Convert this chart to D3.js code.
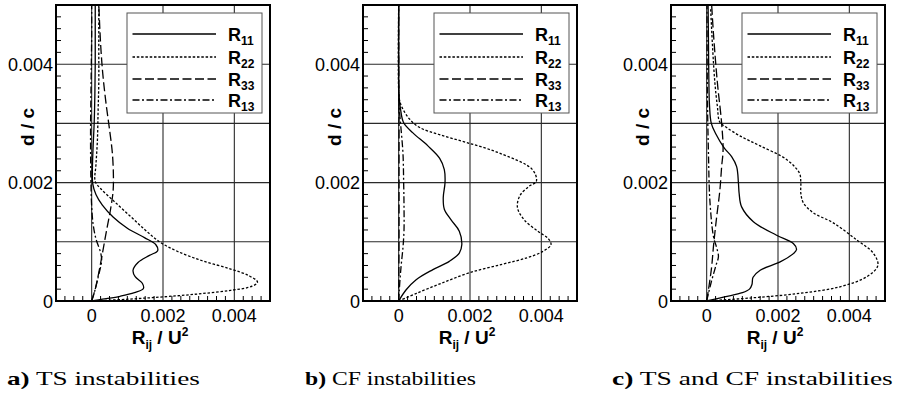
<!DOCTYPE html>
<html><head><meta charset="utf-8">
<script src="https://cdn.jsdelivr.net/npm/d3@7"></script>
<style>body{margin:0;background:#fff}svg{display:block}</style></head>
<body><svg id="chart" width="902" height="394"></svg>
<script>
// values in units of 1e-3 : [R_ij/U^2, d/c]
const captionBold = ["a)", "b)", "c)"];
const captionText = ["TS instabilities", "CF instabilities", "TS and CF instabilities"];
const seriesNames = ["11", "22", "33", "13"];
const xTickValues = [0, 2, 4];
const xTickLabels = ["0", "0.002", "0.004"];
const yTickValues = [0, 2, 4];
const yTickLabels = ["0", "0.002", "0.004"];

const R11a = [[0,0],[0.3,0.03],[0.8,0.08],[1.2,0.14],[1.45,0.21],[1.42,0.3],[1.22,0.41],[1.16,0.52],[1.3,0.65],[1.62,0.77],[1.85,0.85],[1.8,0.95],[1.48,1.07],[1.0,1.23],[0.6,1.42],[0.3,1.62],[0.12,1.8],[0.03,1.98],[0.02,2.2],[0.04,2.6],[0.07,3.0],[0.09,3.5],[0.1,4.0],[0.1,4.5],[0.1,5.0]];
const R22a = [[0,0],[1.0,0.03],[2.0,0.07],[3.0,0.12],[3.9,0.18],[4.5,0.25],[4.65,0.32],[4.4,0.43],[3.9,0.54],[3.1,0.68],[2.4,0.84],[1.9,1.0],[1.5,1.2],[1.05,1.45],[0.6,1.7],[0.25,1.9],[0.1,2.02],[0.12,2.3],[0.16,2.7],[0.18,3.2],[0.2,3.7],[0.2,4.2],[0.2,4.6],[0.2,5.0]];
const R33a = [[0,0],[0.1,0.2],[0.2,0.48],[0.3,0.8],[0.42,1.2],[0.53,1.55],[0.6,1.85],[0.61,2.1],[0.58,2.5],[0.5,2.9],[0.4,3.35],[0.31,3.85],[0.25,4.35],[0.2,5.0]];
const R13a = [[0,0],[0.1,0.2],[0.2,0.45],[0.28,0.68],[0.25,0.82],[0.12,1.05],[0.04,1.3],[0.0,1.6],[-0.02,2.0],[-0.03,2.5],[-0.03,3.0],[-0.02,3.5],[-0.01,4.0],[0,4.5],[0,5.0]];

const R11b = [[0,0],[0.21,0.19],[0.49,0.36],[0.96,0.53],[1.42,0.67],[1.7,0.81],[1.77,0.95],[1.7,1.18],[1.47,1.37],[1.28,1.55],[1.25,1.75],[1.3,2.0],[1.28,2.22],[1.15,2.41],[0.82,2.62],[0.4,2.84],[0.14,3.01],[0.05,3.25],[0.01,3.46],[0,3.7],[0,5.0]];
const R22b = [[0,0],[0.5,0.13],[1.2,0.3],[2.0,0.48],[2.9,0.62],[3.6,0.73],[4.05,0.84],[4.27,0.95],[4.2,1.05],[3.9,1.18],[3.52,1.37],[3.33,1.58],[3.4,1.78],[3.66,1.94],[3.86,2.02],[3.75,2.22],[2.82,2.5],[1.89,2.68],[1.14,2.81],[0.59,2.93],[0.31,3.07],[0.12,3.24],[0.03,3.38],[0,3.55],[0,5.0]];
const R33b = [[0,0],[0.01,1.0],[0.01,2.0],[0.01,3.0],[0,4.0],[0,5.0]];
const R13b = [[0,0],[0.03,0.3],[0.07,0.6],[0.12,0.9],[0.15,1.2],[0.15,1.6],[0.14,2.0],[0.12,2.5],[0.06,2.95],[0.01,3.3],[0,3.6],[0,5.0]];

const R11c = [[0,0],[0.5,0.07],[1.0,0.14],[1.2,0.2],[1.27,0.28],[1.3,0.4],[1.5,0.52],[2.06,0.66],[2.43,0.8],[2.52,0.87],[2.43,0.97],[1.96,1.11],[1.31,1.34],[0.98,1.59],[0.91,1.82],[0.89,2.0],[0.84,2.27],[0.7,2.44],[0.5,2.58],[0.25,2.83],[0.13,3.0],[0.08,3.3],[0.06,3.8],[0.05,4.4],[0.04,5.0]];
const R22c = [[0,0],[1.21,0.05],[2.62,0.13],[3.74,0.24],[4.49,0.41],[4.8,0.6],[4.67,0.81],[4.21,1.03],[3.55,1.32],[2.99,1.49],[2.71,1.66],[2.64,1.82],[2.64,2.0],[2.6,2.16],[2.24,2.39],[1.5,2.62],[0.93,2.79],[0.56,2.93],[0.37,3.02],[0.3,3.29],[0.23,3.69],[0.17,4.24],[0.11,4.95]];
const R33c = [[0,0],[0.05,0.19],[0.14,0.58],[0.19,0.92],[0.28,1.42],[0.37,1.87],[0.42,2.27],[0.46,2.55],[0.42,3.0],[0.3,3.69],[0.19,4.52],[0.14,5.0]];
const R13c = [[0,0],[0.12,0.3],[0.26,0.6],[0.33,0.75],[0.28,0.9],[0.19,1.09],[0.09,1.7],[0.05,2.5],[0.02,3.5],[0.01,5.0]];

const panelSeries = [[R11a, R22a, R33a, R13a], [R11b, R22b, R33b, R13b], [R11c, R22c, R33c, R13c]];
const dashes = [null, "2.5,1.8", "9,3.5", "7,2.5,2,2.5"];

const svg = d3.select("#chart");
svg.append("rect").attr("width", 902).attr("height", 394).attr("fill", "#fff");

const frameLeft = [56, 363, 671];
const W = 214, plotTop = 5, H = 296;
const captionX = [7, 305, 612];
const captionW = [193, 171, 281];
const sans = "Liberation Sans, Arial, Helvetica, sans-serif";

frameLeft.forEach((fx, p) => {
  const g = svg.append("g");
  const x = d3.scaleLinear().domain([-1, 5]).range([fx, fx + W]);
  const y = d3.scaleLinear().domain([0, 5]).range([plotTop + H, plotTop]);
  const clipId = "clip" + p;
  svg.append("clipPath").attr("id", clipId).append("rect")
    .attr("x", fx).attr("y", plotTop).attr("width", W).attr("height", H);

  // grid
  [1, 2, 3, 4].forEach(v => g.append("line").attr("x1", fx).attr("x2", fx + W)
    .attr("y1", y(v)).attr("y2", y(v)).attr("stroke", "#2a2a2a").attr("stroke-width", 1.1));
  [0, 2, 4].forEach(v => g.append("line").attr("y1", plotTop).attr("y2", plotTop + H)
    .attr("x1", x(v)).attr("x2", x(v)).attr("stroke", "#2a2a2a").attr("stroke-width", 1.1));

  // curves
  const line = d3.line().x(d => x(d[0])).y(d => y(d[1])).curve(d3.curveCatmullRom.alpha(0.5));
  const cg = g.append("g").attr("clip-path", `url(#${clipId})`);
  panelSeries[p].forEach((s, i) => {
    cg.append("path").datum(s).attr("d", line).attr("fill", "none")
      .attr("stroke", "#000").attr("stroke-width", 1.3)
      .attr("stroke-dasharray", dashes[i]);
  });

  // legend
  const bx = fx + W - 8 - 135, by = 13;
  g.append("rect").attr("x", bx).attr("y", by).attr("width", 135).attr("height", 100)
    .attr("fill", "#fff").attr("stroke", "#555").attr("stroke-width", 1);
  const rows = [21, 44, 66, 87];
  seriesNames.forEach((n, i) => {
    g.append("line").attr("x1", bx + 5.5).attr("x2", bx + 89)
      .attr("y1", by + rows[i]).attr("y2", by + rows[i])
      .attr("stroke", "#000").attr("stroke-width", 1.3).attr("stroke-dasharray", dashes[i]);
    const t = g.append("text").attr("x", bx + 101).attr("y", by + rows[i] + 6.5)
      .attr("font-family", sans).attr("font-weight", "bold")
      .attr("font-size", 18).attr("fill", "#000");
    t.append("tspan").text("R");
    t.append("tspan").attr("font-size", 12).attr("dy", 4).text(n);
  });

  // frame
  g.append("rect").attr("x", fx).attr("y", plotTop).attr("width", W).attr("height", H)
    .attr("fill", "none").attr("stroke", "#000").attr("stroke-width", 2);

  // minor ticks
  d3.range(0, 5.001, 0.2).forEach(v => {
    if (Math.abs(v - Math.round(v)) < 1e-6) return;
    g.append("line").attr("x1", fx).attr("x2", fx + 5).attr("y1", y(v)).attr("y2", y(v))
      .attr("stroke", "#000").attr("stroke-width", 1);
  });
  d3.range(-1, 5.001, 0.25).forEach(v => {
    if ([0, 2, 4, -1, 5].some(k => Math.abs(v - k) < 1e-6)) return;
    g.append("line").attr("x1", x(v)).attr("x2", x(v)).attr("y1", plotTop + H).attr("y2", plotTop + H - 5)
      .attr("stroke", "#000").attr("stroke-width", 1);
  });

  // tick labels
  yTickValues.forEach((v, i) => g.append("text").attr("x", fx - 3).attr("y", y(v) + 6.5)
    .attr("text-anchor", "end").attr("font-family", sans)
    .attr("font-size", 18).text(yTickLabels[i]));
  xTickValues.forEach((v, i) => g.append("text").attr("x", x(v)).attr("y", 322)
    .attr("text-anchor", "middle").attr("font-family", sans)
    .attr("font-size", 18).text(xTickLabels[i]));

  // axis titles
  const xt = g.append("text").attr("x", fx + W / 2 - 3).attr("y", 344).attr("text-anchor", "middle")
    .attr("font-family", sans).attr("font-weight", "bold").attr("font-size", 19);
  xt.append("tspan").text("R");
  xt.append("tspan").attr("font-size", 12).attr("dy", 5).text("ij");
  xt.append("tspan").attr("dy", -5).text(" / U");
  xt.append("tspan").attr("font-size", 12).attr("dy", -8).text("2");

  g.append("text").attr("transform", `translate(${fx - 22},127) rotate(-90)`)
    .attr("text-anchor", "middle").attr("font-family", sans)
    .attr("font-weight", "bold").attr("font-size", 19).text("d / c");

  // caption
  const cap = svg.append("text").attr("x", 0).attr("y", 0)
    .attr("font-family", "Liberation Serif, Times New Roman, serif").attr("font-size", 18);
  cap.append("tspan").attr("font-weight", "bold").text(captionBold[p]);
  cap.append("tspan").text(" " + captionText[p]);
  const w = cap.node().getComputedTextLength();
  cap.attr("transform", `translate(${captionX[p]},385) scale(${captionW[p] / w},1)`);
});
</script></body></html>
